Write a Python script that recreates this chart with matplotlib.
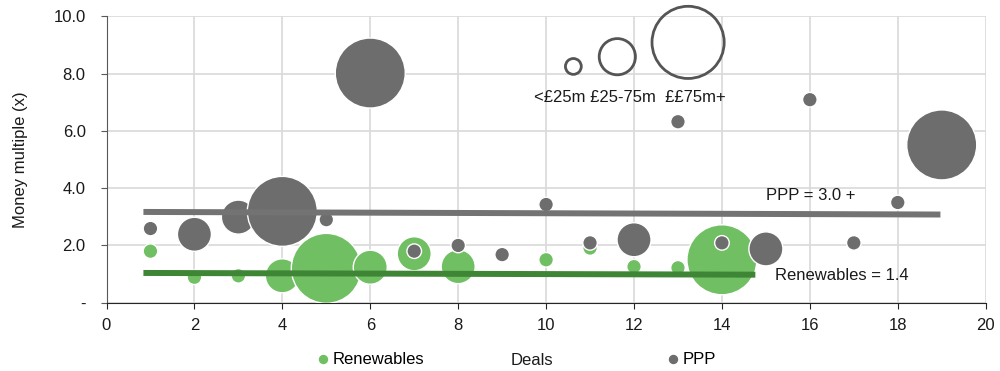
import matplotlib
matplotlib.use('Agg')
import matplotlib.pyplot as plt
from matplotlib import font_manager

# deal number, money multiple, size class (1 = <£25m, 2 = £25-75m, 3 = £75m+)
ren_x = [1, 2, 3, 4, 5, 6, 7, 8, 10, 11, 12, 13, 14]
ren_y = [1.80, 0.89, 0.94, 0.94, 1.20, 1.24, 1.71, 1.26, 1.50, 1.91, 1.26, 1.22, 1.50]
ren_size = [1, 1, 1, 2, 3, 2, 2, 2, 1, 1, 1, 1, 3]

ppp_x = [1, 2, 3, 4, 5, 6, 7, 8, 9, 10, 11, 12, 13, 14, 15, 16, 17, 18, 19]
ppp_y = [2.59, 2.39, 2.99, 3.19, 2.90, 8.02, 1.80, 2.00, 1.68, 3.43, 2.09, 2.20,
         6.32, 2.09, 1.88, 7.09, 2.09, 3.50, 5.51]
ppp_size = [1, 2, 2, 3, 1, 3, 1, 1, 1, 1, 1, 2, 1, 1, 2, 1, 1, 1, 3]

# trend lines (start / end)
ren_trend_x = [0.84, 14.76]
ren_trend_y = [1.04, 0.98]
ppp_trend_x = [0.84, 18.97]
ppp_trend_y = [3.17, 3.08]

# size key
key_x = [10.62, 11.62, 13.23]
key_y = [8.25, 8.59, 9.09]
key_size = [1, 2, 3]
key_text = '<£25m £25-75m  ££75m+'

x_ticks = list(range(0, 21, 2))
y_ticks = [0, 2, 4, 6, 8, 10]
y_labels = ['-' if v == 0 else f'{v:.1f}' for v in y_ticks]

# font: narrow Arial look if available
names = {f.name for f in font_manager.fontManager.ttflist}
if 'Liberation Sans Narrow' in names:
    plt.rcParams['font.family'] = 'Liberation Sans Narrow'
    fs = 14
else:
    plt.rcParams['font.family'] = 'Liberation Sans'
    fs = 12
plt.rcParams['font.size'] = fs

GREEN = '#71bf63'
DKGREEN = '#3e8535'
GREY = '#6d6d6d'
GREYLINE = '#737373'
area = {1: 110, 2: 600, 3: 2540}
key_area = {1: 130, 2: 680, 3: 2700}

fig = plt.figure(figsize=(10, 3.71), dpi=100)
ax = fig.add_axes([0.1065, 0.184, 0.8792, 0.772])

ax.scatter(ren_x, ren_y, s=[area[c] for c in ren_size], color=GREEN,
           edgecolors='white', linewidths=1, zorder=3, label='Renewables')
ax.scatter(ppp_x, ppp_y, s=[area[c] for c in ppp_size], color=GREY,
           edgecolors='white', linewidths=1, zorder=4, label='PPP')
ax.plot(ren_trend_x, ren_trend_y, color=DKGREEN, lw=4.3, solid_capstyle='butt', zorder=5)
ax.plot(ppp_trend_x, ppp_trend_y, color=GREYLINE, lw=4.3, solid_capstyle='butt', zorder=5)

ax.scatter(key_x, key_y, s=[key_area[c] for c in key_size], facecolors='none',
           edgecolors='#555555', linewidths=2, zorder=4, clip_on=False)
ax.text(11.91, 7.18, key_text, ha='center', va='center', color='#1a1a1a')

ax.text(15.0, 3.75, 'PPP = 3.0 +', ha='left', va='center', color='#1a1a1a')
ax.text(15.21, 0.95, 'Renewables = 1.4', ha='left', va='center', color='#1a1a1a')

ax.set_xlim(0, 20)
ax.set_ylim(0, 10)
ax.set_xticks(x_ticks)
ax.set_yticks(y_ticks)
ax.set_yticklabels(y_labels)
ax.grid(True, color='#d9d9d9', lw=1.2, zorder=0)
ax.set_axisbelow(True)
for s in ['top', 'right']:
    ax.spines[s].set_visible(False)
ax.spines['left'].set_color('#595959')
ax.spines['bottom'].set_color('#262626')
ax.tick_params(axis='x', direction='out', length=4, colors='#262626', labelcolor='#1a1a1a', pad=7)
ax.tick_params(axis='y', direction='out', length=4, colors='#595959', labelcolor='#1a1a1a', pad=11)

ax.set_ylabel('Money multiple (x)', va='center', color='#1a1a1a')
ax.yaxis.set_label_coords(-0.098, 0.5)
ax.set_xlabel('Deals', va='center', color='#1a1a1a')
ax.xaxis.set_label_coords(0.4836, -0.20)

fig.legend(handles=ax.collections[:2], labels=['Renewables', 'PPP'], ncol=2,
           loc='center', bbox_to_anchor=(0.517, 0.032), frameon=False,
           markerscale=1, handlelength=0.6, handletextpad=0.3, columnspacing=14.6,
           scatterpoints=1, borderpad=0)
for h, c in zip(fig.legends[0].legend_handles, [GREEN, GREY]):
    h.set_sizes([33])
    h.set_edgecolor(c)

fig.savefig('out.png', dpi=100)
